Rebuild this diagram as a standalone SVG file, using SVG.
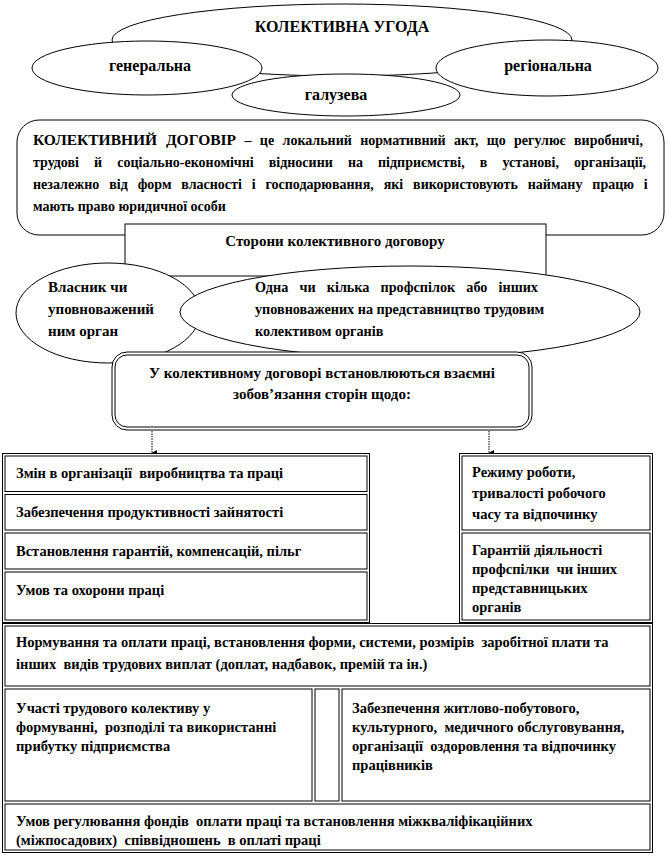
<svg xmlns="http://www.w3.org/2000/svg" width="667" height="860" viewBox="0 0 667 860">
<style>
.t{font-family:"Liberation Serif","Times New Roman",serif;font-weight:bold;font-size:14.5px;fill:#000;white-space:pre}
.c{text-anchor:middle}
.sh{fill:#fff;stroke:#000;stroke-width:1}
.cell{fill:#fff;stroke:#000;stroke-width:1}
.in{fill:none;stroke:#000;stroke-width:1}
.con{stroke:#000;stroke-width:1;stroke-dasharray:1.5 1;fill:none}
</style>
<defs>
<marker id="ah" markerWidth="7" markerHeight="7" refX="3.5" refY="6" orient="auto" markerUnits="userSpaceOnUse">
<path d="M0.5,1 L6.5,1 L3.5,6.5 Z" fill="#000"/>
</marker>
</defs>
<g id="ugoda">
<ellipse class="sh" cx="342" cy="40" rx="230" ry="36"/>
<text class="t c" x="342" y="32" style="font-size:16px">КОЛЕКТИВНА УГОДА</text>
</g>
<g id="generalna">
<ellipse class="sh" cx="147" cy="68" rx="115" ry="27"/>
<text class="t c" x="150" y="71" style="font-size:16px">генеральна</text>
</g>
<g id="regionalna">
<ellipse class="sh" cx="547" cy="68" rx="111" ry="28"/>
<text class="t c" x="548" y="71" style="font-size:16px">регіональна</text>
</g>
<g id="haluzeva">
<ellipse class="sh" cx="346" cy="95" rx="114" ry="21"/>
<text class="t c" x="336" y="100" style="font-size:16px">галузева</text>
</g>
<g id="dohovir">
<rect class="sh" x="17" y="120" width="647" height="115" rx="22"/>
<text class="t" x="33" y="145" style="font-size:14px;word-spacing:4.9px"><tspan style="font-size:15.5px">КОЛЕКТИВНИЙ ДОГОВІР</tspan> – це локальний нормативний акт, що регулює виробничі,</text>
<text class="t" x="33" y="167" style="font-size:14px;word-spacing:11.6px">трудові й соціально-економічні відносини на підприємстві, в установі, організації,</text>
<text class="t" x="33" y="189" style="font-size:14px;word-spacing:6.4px">незалежно від форм власності і господарювання, які використовують найману працю і</text>
<text class="t" x="33" y="211" style="font-size:14px">мають право юридичної особи</text>
</g>
<g id="storony">
<rect class="sh" x="125" y="224" width="421" height="52"/>
<text class="t c" x="335" y="246" style="font-size:15px">Сторони колективного договору</text>
</g>
<g id="vlasnyk">
<ellipse class="sh" cx="108" cy="313" rx="92" ry="50"/>
<text class="t" x="48" y="292" style="font-size:15px">Власник чи</text>
<text class="t" x="48" y="314" style="font-size:15px">уповноважений</text>
<text class="t" x="48" y="336" style="font-size:15px">ним орган</text>
</g>
<g id="profspilky">
<ellipse class="sh" cx="410" cy="312" rx="230" ry="46"/>
<text class="t" x="255" y="292" style="font-size:14.2px;word-spacing:7.6px">Одна чи кілька профспілок або інших</text>
<text class="t" x="255" y="314" style="font-size:14.2px">уповноважених на представництво трудовим</text>
<text class="t" x="255" y="336" style="font-size:14.2px">колективом органів</text>
</g>
<g id="zobovyazannya">
<rect class="sh" x="112" y="352" width="420" height="78" rx="15"/>
<rect class="in" x="115" y="355" width="414" height="72" rx="12"/>
<text class="t c" x="322" y="378" style="font-size:15px">У колективному договорі встановлюються взаємні</text>
<text class="t c" x="322" y="399" style="font-size:15px">зобов’язання сторін щодо:</text>
</g>
<g id="connectors">
<line class="con" x1="152" y1="431" x2="152" y2="453" marker-end="url(#ah)"/>
<line class="con" x1="489" y1="431" x2="489" y2="453" marker-end="url(#ah)"/>
</g>
<g id="left-table">
<rect class="cell" x="2.5" y="453.5" width="367" height="169"/>
<g id="zmin"><rect class="in" x="5" y="456" width="362" height="35.5"/><text class="t" x="16" y="478">Змін в організації  виробництва та праці</text></g>
<g id="zabezpechennya"><rect class="in" x="5" y="494.5" width="362" height="35.5"/><text class="t" x="16" y="517">Забезпечення продуктивності зайнятості</text></g>
<g id="harantii"><rect class="in" x="5" y="533" width="362" height="36"/><text class="t" x="16" y="556">Встановлення гарантій, компенсацій, пільг</text></g>
<g id="umovy"><rect class="in" x="5" y="572" width="362" height="48"/><text class="t" x="16" y="595">Умов та охорони праці</text></g>
</g>
<g id="right-table">
<rect class="cell" x="459.5" y="453.5" width="193" height="169"/>
<g id="rezhym"><rect class="in" x="462" y="456" width="188" height="74"/>
<text class="t" x="472" y="477">Режиму роботи,</text>
<text class="t" x="472" y="498">тривалості робочого</text>
<text class="t" x="472" y="519">часу та відпочинку</text></g>
<g id="harantii-prof"><rect class="in" x="462" y="533" width="188" height="87"/>
<text class="t" x="472" y="555">Гарантій діяльності</text>
<text class="t" x="472" y="574">профспілки  чи інших</text>
<text class="t" x="472" y="593">представницьких</text>
<text class="t" x="472" y="612">органів</text></g>
</g>
<g id="bottom-table">
<rect class="cell" x="2.5" y="623.5" width="650" height="229"/>
<g id="normuvannya"><rect class="in" x="5" y="626" width="645" height="60"/>
<text class="t" x="16" y="647">Нормування та оплати праці, встановлення форми, системи, розмірів  заробітної плати та</text>
<text class="t" x="16" y="669">інших  видів трудових виплат (доплат, надбавок, премій та ін.)</text></g>
<g id="uchasti"><rect class="in" x="5" y="689" width="307" height="112"/>
<text class="t" x="16" y="713">Участі трудового колективу у</text>
<text class="t" x="16" y="732">формуванні,  розподілі та використанні</text>
<text class="t" x="16" y="751">прибутку підприємства</text></g>
<rect class="in" x="315" y="689" width="24" height="112"/>
<g id="zhytlovo"><rect class="in" x="342" y="689" width="308" height="112"/>
<text class="t" x="352" y="713">Забезпечення житлово-побутового,</text>
<text class="t" x="352" y="732">культурного,  медичного обслуговування,</text>
<text class="t" x="352" y="751">організації  оздоровлення та відпочинку</text>
<text class="t" x="352" y="770">працівників</text></g>
<g id="fondy"><rect class="in" x="5" y="804" width="645" height="46"/>
<text class="t" x="16" y="826">Умов регулювання фондів  оплати праці та встановлення міжкваліфікаційних</text>
<text class="t" x="16" y="845">(міжпосадових)  співвідношень  в оплаті праці</text></g>
</g>
</svg>
